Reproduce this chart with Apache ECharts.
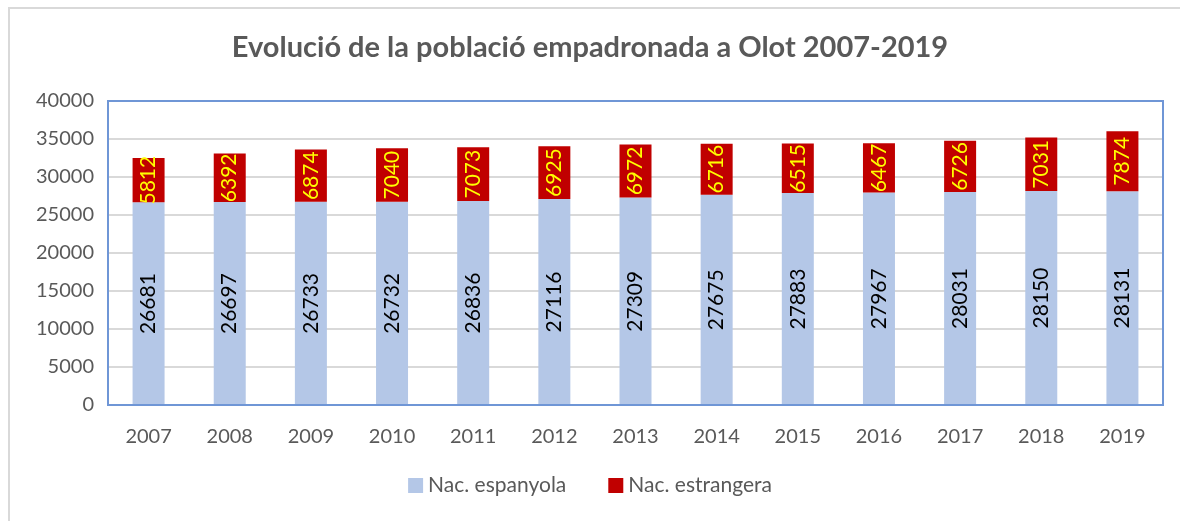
<!DOCTYPE html>
<html>
<head>
<meta charset="utf-8">
<script src="https://cdn.jsdelivr.net/npm/echarts@6/dist/echarts.min.js"></script>
<style>
  html, body {margin: 0; padding: 0; background: #fff;}
  #chart {width: 1180px; height: 521px;}
</style>
</head>
<body>
<div id="chart"></div>
<script>
const years = ['2007', '2008', '2009', '2010', '2011', '2012', '2013', '2014', '2015', '2016', '2017', '2018', '2019'];
const espanyola = [26681, 26697, 26733, 26732, 26836, 27116, 27309, 27675, 27883, 27967, 28031, 28150, 28131];
const estrangera = [5812, 6392, 6874, 7040, 7073, 6925, 6972, 6716, 6515, 6467, 6726, 7031, 7874];

const font = 'Lato, "Open Sans", sans-serif';
const chart = echarts.init(document.getElementById('chart'));

chart.setOption({
  animation: false,
  textStyle: {fontFamily: font},
  graphic: [{
    type: 'rect',
    shape: {x: 9, y: 8, width: 1300, height: 700},
    style: {fill: 'none', stroke: '#d9d9d9', lineWidth: 2},
    silent: true
  }],
  title: {
    text: 'Evolució de la població empadronada a Olot 2007-2019',
    left: 'center',
    top: 28,
    textStyle: {fontFamily: font, fontSize: 29, fontWeight: 'bold', color: '#595959'}
  },
  legend: {
    bottom: 20,
    left: 'center',
    itemWidth: 15,
    itemHeight: 15,
    itemGap: 42,
    icon: 'rect',
    textStyle: {fontFamily: font, fontSize: 21, color: '#595959'},
    data: ['Nac. espanyola', 'Nac. estrangera']
  },
  grid: {
    left: 108, right: 17, top: 101, bottom: 116,
    show: true, borderColor: '#6f96d6', borderWidth: 2, backgroundColor: 'transparent', z: 5
  },
  xAxis: {
    type: 'category',
    data: years,
    axisTick: {show: false},
    axisLine: {lineStyle: {color: '#d0d0d0', width: 2}},
    axisLabel: {fontSize: 20, color: '#595959', margin: 22, fontFamily: font}
  },
  yAxis: {
    type: 'value',
    min: 0, max: 40000, interval: 5000,
    splitLine: {showMaxLine: false, lineStyle: {color: '#d9d9d9', width: 2}},
    axisLabel: {fontSize: 20, color: '#595959', margin: 14, fontFamily: font, formatter: v => String(v)}
  },
  series: [{
    name: 'Nac. espanyola',
    type: 'bar',
    stack: 'total',
    barWidth: 32,
    data: espanyola,
    itemStyle: {color: '#b4c7e7'},
    label: {show: true, position: 'inside', rotate: 90, fontSize: 21, color: '#000', fontFamily: font}
  }, {
    name: 'Nac. estrangera',
    type: 'bar',
    stack: 'total',
    barWidth: 32,
    data: estrangera,
    itemStyle: {color: '#c00000'},
    label: {show: true, position: 'inside', rotate: 90, fontSize: 21, color: '#ffff00', fontFamily: font}
  }]
});
</script>
</body>
</html>
